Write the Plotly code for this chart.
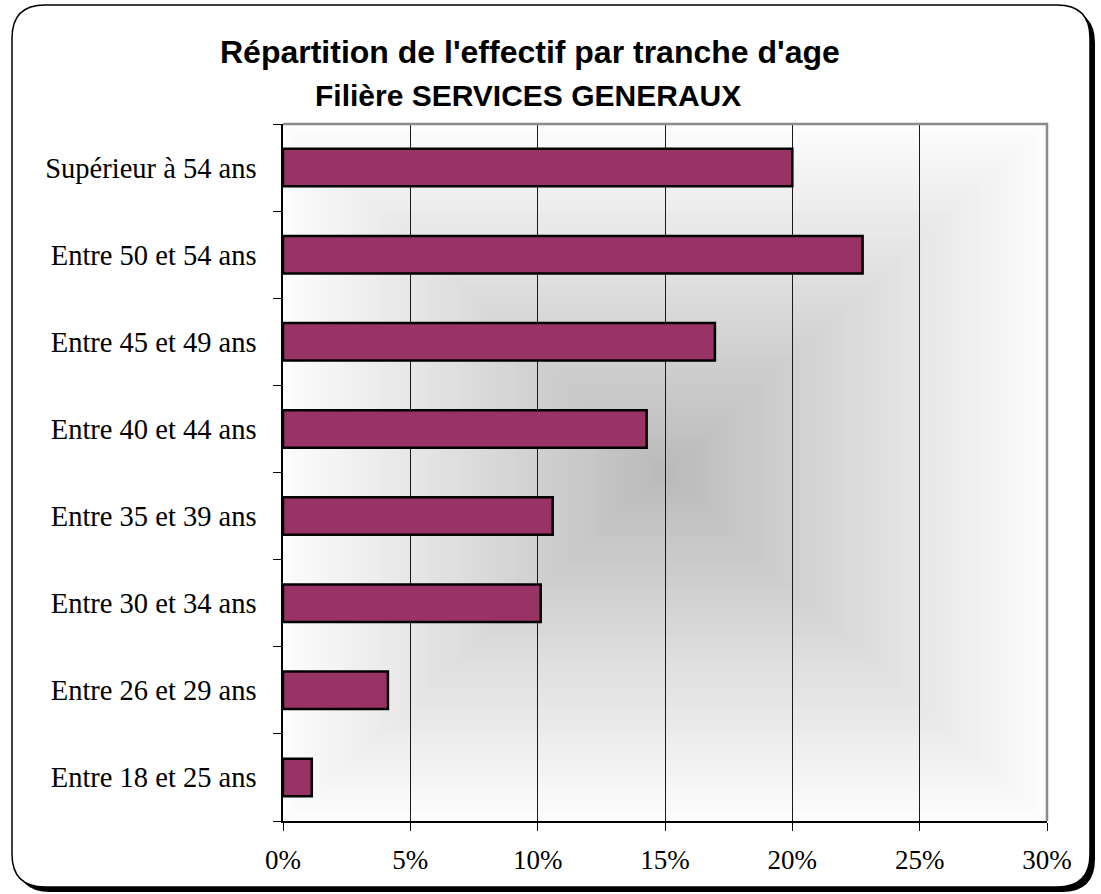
import base64
import struct
import zlib

import plotly.graph_objects as go

# ---------------- data ----------------
categories = [
    "Entre 18 et 25 ans",
    "Entre 26 et 29 ans",
    "Entre 30 et 34 ans",
    "Entre 35 et 39 ans",
    "Entre 40 et 44 ans",
    "Entre 45 et 49 ans",
    "Entre 50 et 54 ans",
    "Supérieur à 54 ans",
]
shares = [0.0113, 0.0412, 0.1012, 0.1059, 0.1428, 0.1696, 0.2276, 0.2000]
x_tick_values = [0, 0.05, 0.10, 0.15, 0.20, 0.25, 0.30]
x_tick_labels = ["0%", "5%", "10%", "15%", "20%", "25%", "30%"]
title_line1 = "Répartition de l'effectif par tranche d'age"
title_line2 = "Filière SERVICES GENERAUX"

# ---------------- geometry (pixels) ----------------
W, H = 1101, 894
PL, PR, PT, PB = 283, 1047, 124, 821  # plot area


def px(x):
    return (x - PL) / (PR - PL)


def py(y):
    return (PB - y) / (PB - PT)


def rrect(x0, y0, x1, y1, r):
    pts = [
        ("M", [(x0 + r, y0)]),
        ("L", [(x1 - r, y0)]),
        ("Q", [(x1, y0), (x1, y0 + r)]),
        ("L", [(x1, y1 - r)]),
        ("Q", [(x1, y1), (x1 - r, y1)]),
        ("L", [(x0 + r, y1)]),
        ("Q", [(x0, y1), (x0, y1 - r)]),
        ("L", [(x0, y0 + r)]),
        ("Q", [(x0, y0), (x0 + r, y0)]),
    ]
    s = ""
    for cmd, ps in pts:
        s += cmd + " " + " ".join(f"{px(a):.5f},{py(b):.5f}" for a, b in ps) + " "
    return s + "Z"


def rect(x0, y0, x1, y1):
    return (f"M {px(x0):.5f},{py(y0):.5f} L {px(x1):.5f},{py(y0):.5f} "
            f"L {px(x1):.5f},{py(y1):.5f} L {px(x0):.5f},{py(y1):.5f} Z")


# ---------------- gradient background image ----------------
def gradient_png(n=240, center=186, edge=253):
    rows = b""
    for j in range(n):
        row = bytearray([0])
        dy = abs((j + 0.5) / n - 0.5) * 2
        for i in range(n):
            dx = abs((i + 0.5) / n - 0.5) * 2
            t = max(dx, dy)
            row.append(int(round(center + (edge - center) * t)))
        rows += bytes(row)

    def chunk(tag, data):
        c = struct.pack(">I", len(data)) + tag + data
        return c + struct.pack(">I", zlib.crc32(tag + data) & 0xFFFFFFFF)

    png = b"\x89PNG\r\n\x1a\n"
    png += chunk(b"IHDR", struct.pack(">IIBBBBB", n, n, 8, 0, 0, 0, 0))
    png += chunk(b"IDAT", zlib.compress(rows, 9))
    png += chunk(b"IEND", b"")
    return "data:image/png;base64," + base64.b64encode(png).decode()


fig = go.Figure()
fig.add_trace(go.Bar(
    x=shares,
    y=categories,
    orientation="h",
    width=0.43,
    marker=dict(color="#993366", line=dict(color="#000000", width=2.5)),
    hovertemplate="%{y}: %{x:.1%}<extra></extra>",
))

FX0, FY0, FX1, FY1, R = 12, 5, 1090, 887, 33
hole = rect(PL, PT, PR, PB)

shapes = [
    # shadow
    dict(type="path", xref="paper", yref="paper", layer="below",
         path=rrect(FX0 + 5, FY0 + 5, FX1 + 5, FY1 + 5, R) + " " + hole,
         fillcolor="#000000", line=dict(width=0), fillrule="evenodd"),
    # white card
    dict(type="path", xref="paper", yref="paper", layer="below",
         path=rrect(FX0, FY0, FX1, FY1, R) + " " + hole,
         fillcolor="#ffffff", line=dict(width=0), fillrule="evenodd"),
    # card outline
    dict(type="path", xref="paper", yref="paper", layer="below",
         path=rrect(FX0, FY0, FX1, FY1, R),
         line=dict(color="#000000", width=1.5)),
    # gray top/right border of plot area
    dict(type="path", xref="paper", yref="paper", layer="above",
         path=f"M {px(PL):.5f},{py(PT):.5f} L {px(PR):.5f},{py(PT):.5f} L {px(PR):.5f},{py(PB):.5f}",
         line=dict(color="#8a8a8a", width=2.5)),
]

images = [dict(source=gradient_png(), xref="paper", yref="paper", x=0, y=1,
               sizex=1, sizey=1, sizing="stretch", layer="below",
               xanchor="left", yanchor="top")]

annotations = [
    dict(text=f"<b>{title_line1}</b>", x=px(530), y=py(52), xref="paper", yref="paper",
         showarrow=False, xanchor="center", yanchor="middle",
         font=dict(family="Liberation Sans, Arial", size=32, color="#000000")),
    dict(text=f"<b>{title_line2}</b>", x=px(528), y=py(95), xref="paper", yref="paper",
         showarrow=False, xanchor="center", yanchor="middle",
         font=dict(family="Liberation Sans, Arial", size=30, color="#000000")),
]

fig.update_layout(
    width=W, height=H,
    margin=dict(l=PL, r=W - PR, t=PT, b=H - PB),
    paper_bgcolor="#ffffff",
    plot_bgcolor="rgba(0,0,0,0)",
    showlegend=False,
    shapes=shapes,
    images=images,
    annotations=annotations,
    font=dict(family="Liberation Serif, Times New Roman", size=27, color="#000000"),
    bargap=0.57,
)

fig.update_xaxes(
    range=[0, 0.30],
    tickvals=x_tick_values,
    ticktext=x_tick_labels,
    ticks="outside", ticklen=8, tickwidth=1, tickcolor="#000000",
    ticklabelstandoff=6,
    showgrid=True, gridcolor="#1a1a1a", gridwidth=1,
    showline=True, linecolor="#000000", linewidth=1.5,
    zeroline=False,
    tickfont=dict(family="Liberation Serif, Times New Roman", size=27),
)
fig.update_yaxes(
    type="category",
    categoryorder="array", categoryarray=categories,
    tickson="boundaries",
    ticks="outside", ticklen=8, tickwidth=1, tickcolor="#000000",
    ticklabelstandoff=19,
    showgrid=False,
    showline=True, linecolor="#000000", linewidth=1.5,
    zeroline=False,
    tickfont=dict(family="Liberation Serif, Times New Roman", size=28.5),
)

fig.write_html(
    "out.html",
    config={"displayModeBar": False},
    post_script="document.body.style.margin='0';document.body.style.overflow='hidden';",
)
